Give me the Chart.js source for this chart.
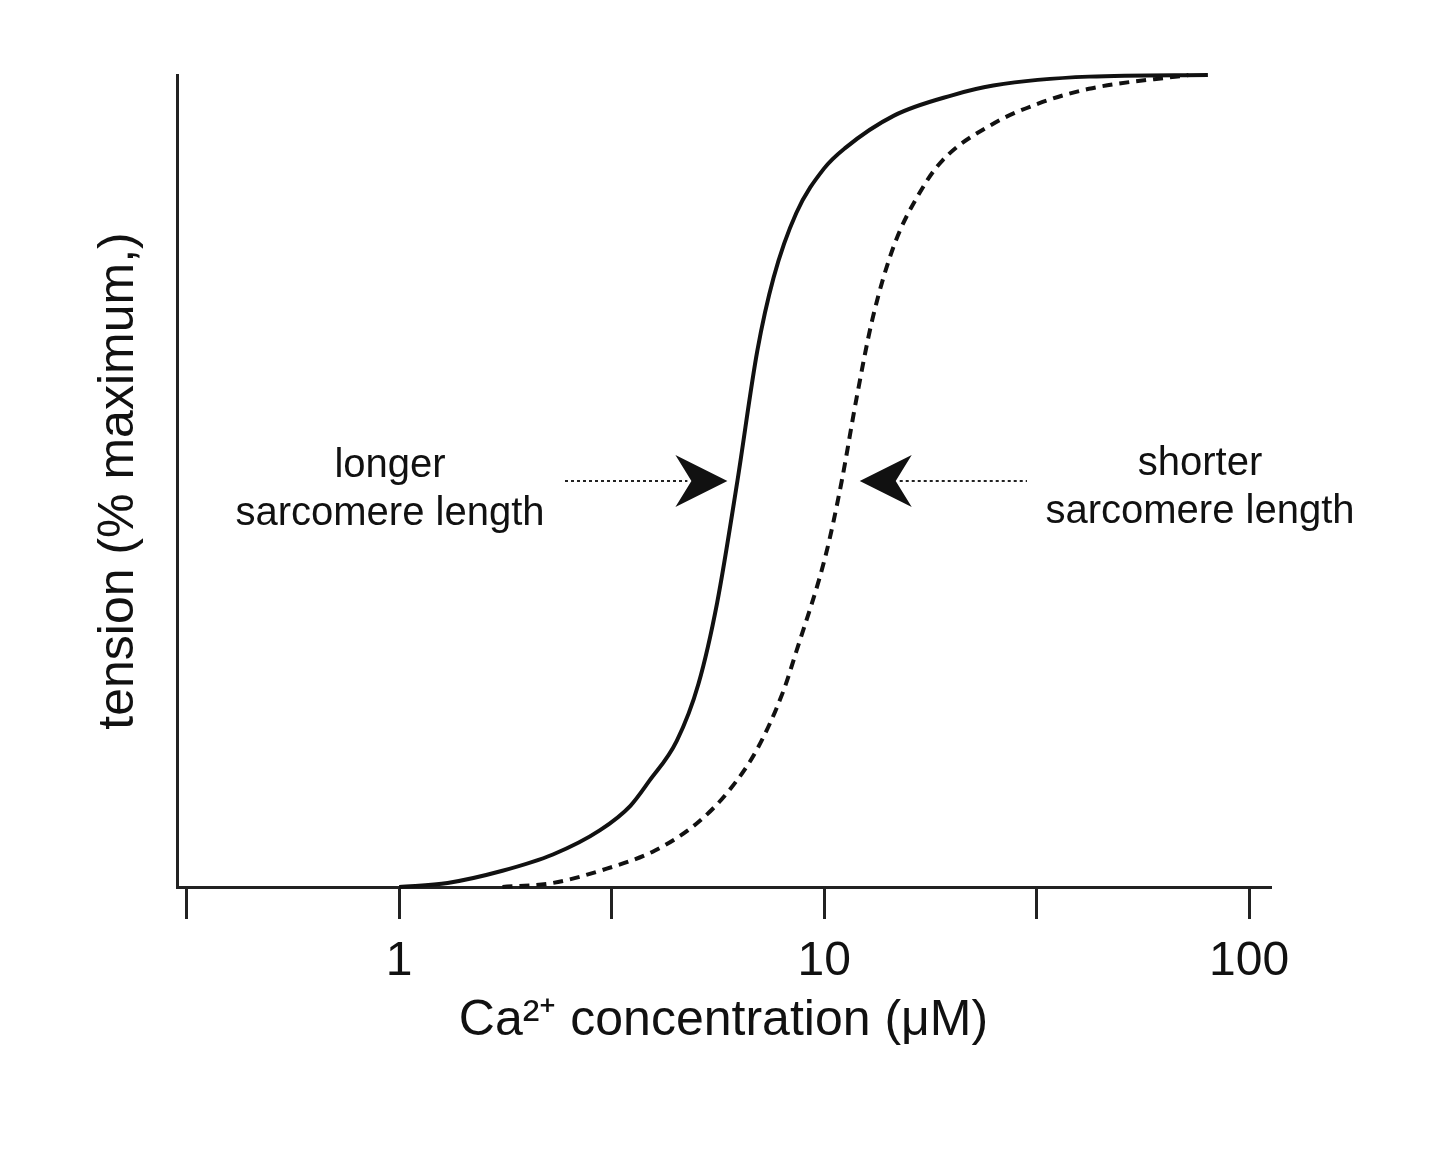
<!DOCTYPE html>
<html><head><meta charset="utf-8">
<script src="https://cdn.jsdelivr.net/npm/chart.js@4/dist/chart.umd.min.js"></script>
<style>html,body{margin:0;background:#fff}#w{width:1440px;height:1160px}</style>
</head><body><div id="w"><canvas id="c"></canvas></div>
<script>
const tickValues = [0.3162, 1, 3.162, 10, 31.62, 100];
const tickLabels = {1: "1", 10: "10", 100: "100"};
const longerX = [1, 1.3, 1.75, 2.3, 2.97, 3.5, 3.87, 4.5, 5.06, 5.6, 6.25, 6.96, 7.6, 8.6, 10, 11.2, 14.6, 20, 25, 42, 80];
const longerY = [0, 0.5, 2, 4, 7, 10, 13, 18, 25, 35, 50, 66, 75, 83, 88.5, 91, 95, 97.5, 98.7, 99.8, 100];
const shorterX = [1.75, 2.3, 2.97, 4, 5.06, 6, 6.96, 8, 8.6, 10.1, 11, 11.9, 13, 14.6, 17, 19, 25, 32, 42, 72];
const shorterY = [0, 0.5, 2, 4.5, 8, 12, 17, 24, 29, 41, 50, 60, 70, 79, 86, 89.5, 94, 96.5, 98.3, 100];
const labelLonger = ["longer", "sarcomere length"];
const labelShorter = ["shorter", "sarcomere length"];
const arrowY = 50;

const font = "Liberation Sans, Arial, sans-serif";
const pts = (xs, ys) => xs.map((x, i) => ({x, y: ys[i]}));

const annot = {
  id: 'annot',
  afterDatasetsDraw(chart) {
    const {ctx, scales: {x, y}} = chart;
    const yy = y.getPixelForValue(arrowY);
    ctx.save();
    ctx.fillStyle = '#111'; ctx.strokeStyle = '#222';
    ctx.font = '40px ' + font; ctx.textAlign = 'center';
    ctx.fillText(labelLonger[0], 390, yy - 4);
    ctx.fillText(labelLonger[1], 390, yy + 44);
    ctx.fillText(labelShorter[0], 1200, yy - 6);
    ctx.fillText(labelShorter[1], 1200, yy + 42);
    const tipL = x.getPixelForValue(6.25) - 10;
    const tipR = x.getPixelForValue(11) + 18;
    ctx.lineWidth = 2; ctx.setLineDash([3, 3]);
    ctx.beginPath(); ctx.moveTo(565, yy); ctx.lineTo(tipL - 40, yy);
    ctx.moveTo(tipR + 40, yy); ctx.lineTo(1027, yy); ctx.stroke();
    ctx.setLineDash([]);
    const head = (tip, dir) => {
      ctx.beginPath();
      ctx.moveTo(tip, yy);
      ctx.lineTo(tip - dir * 52, yy - 26);
      ctx.lineTo(tip - dir * 36, yy);
      ctx.lineTo(tip - dir * 52, yy + 26);
      ctx.closePath(); ctx.fill();
    };
    head(tipL, 1); head(tipR, -1);
    ctx.restore();
  }
};

new Chart(document.getElementById('c'), {
  type: 'scatter',
  data: { datasets: [
    { data: pts(longerX, longerY), showLine: true, borderColor: '#111', borderWidth: 4, pointRadius: 0, cubicInterpolationMode: 'monotone', clip: false },
    { data: pts(shorterX, shorterY), showLine: true, borderColor: '#111', borderWidth: 4, borderDash: [10, 7], pointRadius: 0, cubicInterpolationMode: 'monotone', clip: false }
  ]},
  options: {
    responsive: true, maintainAspectRatio: false, animation: false,
    layout: { padding: { left: 85, top: 75, right: 170, bottom: 105 } },
    plugins: { legend: { display: false }, tooltip: { enabled: false } },
    scales: {
      x: {
        type: 'logarithmic', min: 0.3162, max: 112,
        afterBuildTicks: s => { s.ticks = tickValues.map(v => ({value: v})); },
        afterFit: s => { s.height = 1160 - 887 - 105; },
        border: { color: '#222', width: 3 },
        grid: { drawOnChartArea: false, color: '#222', lineWidth: 3, tickLength: 32 },
        ticks: { color: '#111', font: { size: 48, family: font }, padding: 14, maxRotation: 0, autoSkip: false,
          callback: v => tickLabels[v] || tickLabels[Math.round(v)] || '' },
        title: { display: true, text: 'Ca²⁺ concentration (μM)', color: '#111', font: { size: 50, family: font }, padding: { top: 0 } }
      },
      y: {
        min: 0, max: 100,
        afterFit: s => { s.width = 92; },
        border: { color: '#222', width: 3 },
        grid: { display: false },
        ticks: { display: false },
        title: { display: true, text: 'tension (% maximum,)', color: '#111', font: { size: 50, family: font }, padding: { bottom: 10 } }
      }
    }
  },
  plugins: [annot]
});
</script></body></html>
